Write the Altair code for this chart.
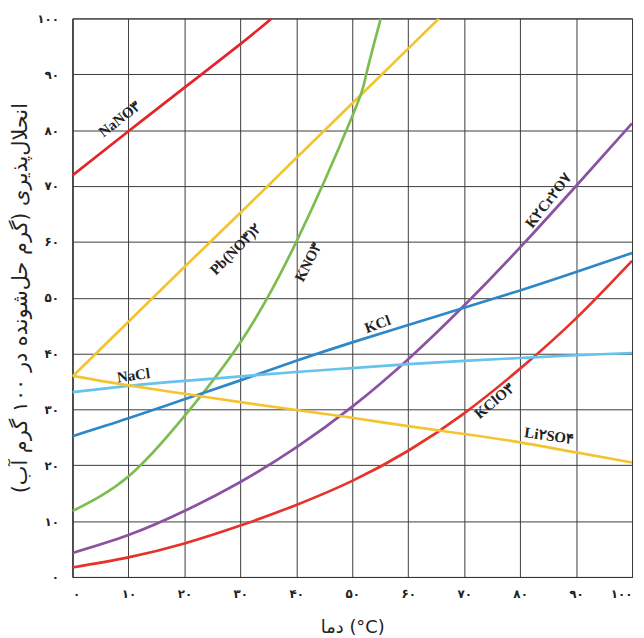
import json
import altair as alt
import pandas as pd

# ---------------- data ----------------
temps = [0, 10, 20, 30, 40, 50, 60, 70, 80, 90, 100]

nano3_t = [0, 10, 20, 30, 35.6]
nano3_s = [71.9, 79.8, 87.6, 95.4, 100]

pbno32_t = [0, 10, 20, 30, 40, 50, 60, 65.5]
pbno32_s = [35.9, 45.7, 55.5, 65.2, 75, 84.8, 94.6, 100]

kno3_t = [0, 10, 20, 30, 40, 50, 52.5, 55.1]
kno3_s = [11.8, 18.0, 28.8, 42, 60, 82.5, 90, 100]

k2cr2o7_s = [4.3, 7.5, 11.8, 17.0, 23.2, 30.5, 39.0, 48.6, 59.0, 70.0, 81.2]
kclo3_s = [1.7, 3.5, 6.0, 9.2, 12.9, 17.2, 22.6, 29.3, 37.3, 46.3, 56.6]
kcl_s = [25.2, 28.4, 31.8, 35.2, 38.7, 42.0, 45.1, 48.2, 51.3, 54.6, 58]
nacl_s = [33.1, 34.2, 35.1, 35.9, 36.7, 37.4, 38.1, 38.7, 39.2, 39.7, 40.1]
li2so4_s = [36, 34.3, 32.8, 31.3, 29.9, 28.5, 27, 25.6, 24.1, 22.3, 20.5]

series_names = ["NaNO3", "Pb(NO3)2", "KNO3", "K2Cr2O7", "KClO3", "KCl", "NaCl", "Li2SO4"]
series_colors = ["#e3262c", "#f4c430", "#7cbd4f", "#8b52a1", "#e5332b", "#2d87c8", "#66c3ec", "#f4c430"]

tick_values = [0, 10, 20, 30, 40, 50, 60, 70, 80, 90, 100]
tick_labels = ["۰", "۱۰", "۲۰", "۳۰", "۴۰", "۵۰", "۶۰", "۷۰", "۸۰", "۹۰", "۱۰۰"]

label_texts = ["NaNO۳", "Pb(NO۳)۲", "KNO۳", "KCl", "NaCl", "K۲Cr۲O۷", "KClO۳", "Li۲SO۴"]
label_t = [8.4, 29.1, 42.1, 54.5, 10.9, 85.0, 75.3, 85.2]
label_s = [82.0, 58.7, 56.4, 45.3, 36.1, 67.4, 31.5, 25.3]
label_angles = [322, 315, 297, 340, 352, 308, 320, 8]

x_title = "دما (°C)"
y_title = "انحلال‌پذیری (گرم حل‌شونده در ۱۰۰ گرم آب)"

# ---------------- table ----------------
rows = []
def add(name, ts, ss):
    for i, (t, s) in enumerate(zip(ts, ss)):
        rows.append({"series": name, "T": t, "S": s, "order": i})

add("NaNO3", nano3_t, nano3_s)
add("Pb(NO3)2", pbno32_t, pbno32_s)
add("KNO3", kno3_t, kno3_s)
add("K2Cr2O7", temps, k2cr2o7_s)
add("KClO3", temps, kclo3_s)
add("KCl", temps, kcl_s)
add("NaCl", temps, nacl_s)
add("Li2SO4", temps, li2so4_s)
df = pd.DataFrame(rows)

label_expr = json.dumps(tick_labels, ensure_ascii=False) + "[round(datum.value/10)]"

common_axis = dict(grid=True, ticks=False, labelFontSize=12, labelFontWeight="bold",
                   titleFontWeight="normal", labelFont="DejaVu Sans", titleFont="DejaVu Sans",
                   labelColor="#222", titleColor="#222",
                   gridColor="#3c3c3c", gridWidth=1, domainColor="#333")

x_enc = alt.X("T:Q", scale=alt.Scale(domain=[0, 100], nice=False),
              axis=alt.Axis(values=tick_values, labelExpr=label_expr, title=x_title,
                            labelPadding=12, titlePadding=19, titleFontSize=18, **common_axis))
y_enc = alt.Y("S:Q", scale=alt.Scale(domain=[0, 100], nice=False),
              axis=alt.Axis(values=tick_values, labelExpr=label_expr, title=y_title,
                            labelPadding=14, titlePadding=6, titleFontSize=21, **common_axis))

lines = alt.Chart(df).mark_line(strokeWidth=2.7, interpolate="natural", clip=True).encode(
    x=x_enc,
    y=y_enc,
    color=alt.Color("series:N", scale=alt.Scale(domain=series_names, range=series_colors), legend=None),
    detail="series:N",
    order="order:Q",
)

layers = [lines]
for txt, t, s, a in zip(label_texts, label_t, label_s, label_angles):
    ldf = pd.DataFrame({"T": [t], "S": [s], "txt": [txt]})
    layers.append(
        alt.Chart(ldf).mark_text(angle=a, font="Liberation Serif", fontSize=15, fontWeight="bold",
                                 color="#222", align="center", baseline="middle").encode(
            x="T:Q", y="S:Q", text="txt:N")
    )

chart = alt.layer(*layers).properties(
    width=564, height=563,
    autosize=alt.AutoSizeParams(type="none"),
    padding={"left": 65, "top": 8, "right": 4, "bottom": 58},
).configure_view(stroke="#333", strokeWidth=1)

chart.save("out.html", embed_options={"renderer": "svg", "actions": False})
